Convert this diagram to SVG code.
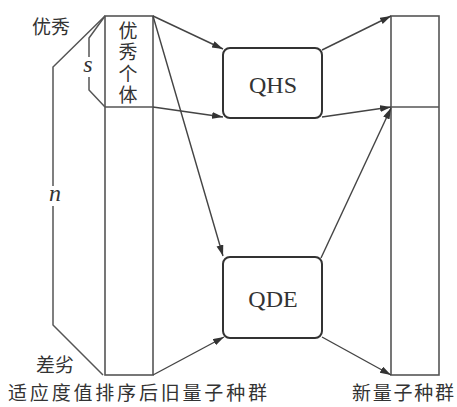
<svg xmlns="http://www.w3.org/2000/svg" width="457" height="407" viewBox="0 0 457 407">
<style>
.col{fill:none;stroke:#555;stroke-width:1.6}
.br{fill:none;stroke:#555;stroke-width:1.5}
.box{fill:#fff;stroke:#333;stroke-width:2}
.ar{fill:none;stroke:#444;stroke-width:1.4}
.cn{font-family:"Noto Sans CJK SC","Noto Sans CJK JP",sans-serif;font-size:19px;fill:#333}
.lt{font-family:"Liberation Serif",serif;font-size:24px;fill:#333}
.it{font-family:"Liberation Serif",serif;font-size:24px;font-style:italic;fill:#333}
</style>
<defs>
<marker id="ah" markerUnits="userSpaceOnUse" markerWidth="12" markerHeight="8" refX="11" refY="3.5" orient="auto">
<path d="M0,0 L11,3.5 L0,7 z" fill="#333"/>
</marker>
</defs>
<rect width="457" height="407" fill="#fff"/>
<g id="old-population">
<rect class="col" x="105" y="16" width="48" height="359"/>
<line class="col" x1="105" y1="107" x2="153" y2="107"/>
<text class="cn" x="128" y="21" font-size="18" writing-mode="vertical-rl" letter-spacing="2.4">优秀个体</text>
<text class="cn" x="8" y="400" textLength="259" lengthAdjust="spacing">适应度值排序后旧量子种群</text>
</g>
<g id="brackets">
<path class="br" d="M105,16 L89,38 L89,57 M89,77 L89,90 L105,107"/>
<text class="it" x="88" y="72" text-anchor="middle">s</text>
<path class="br" d="M105,16 L53,67 L53,186 M53,206 L53,325 L103,375"/>
<text class="it" x="55" y="201" text-anchor="middle">n</text>
<text class="cn" x="51" y="34" text-anchor="middle" font-size="20">优秀</text>
<text class="cn" x="55" y="372" text-anchor="middle" font-size="20">差劣</text>
</g>
<g id="new-population">
<rect class="col" x="391" y="16" width="48" height="359"/>
<line class="col" x1="391" y1="107" x2="439" y2="107"/>
<text class="cn" x="352" y="400" textLength="102" lengthAdjust="spacing">新量子种群</text>
</g>
<g id="connectors">
<line class="ar" x1="153" y1="16" x2="223" y2="49" marker-end="url(#ah)"/>
<line class="ar" x1="153" y1="107" x2="223" y2="117" marker-end="url(#ah)"/>
<line class="ar" x1="153" y1="16" x2="223" y2="256" marker-end="url(#ah)"/>
<line class="ar" x1="153" y1="375" x2="224" y2="337" marker-end="url(#ah)"/>
<line class="ar" x1="322" y1="50" x2="391" y2="16" marker-end="url(#ah)"/>
<line class="ar" x1="322" y1="117" x2="391" y2="107" marker-end="url(#ah)"/>
<line class="ar" x1="321" y1="258" x2="391" y2="108" marker-end="url(#ah)"/>
<line class="ar" x1="322" y1="337" x2="391" y2="375" marker-end="url(#ah)"/>
</g>
<g id="QHS">
<rect class="box" x="223" y="48" width="99" height="70" rx="7"/>
<text class="lt" x="273" y="93" text-anchor="middle">QHS</text>
</g>
<g id="QDE">
<rect class="box" x="223" y="257" width="99" height="81" rx="7"/>
<text class="lt" x="273" y="307" text-anchor="middle">QDE</text>
</g>
</svg>
